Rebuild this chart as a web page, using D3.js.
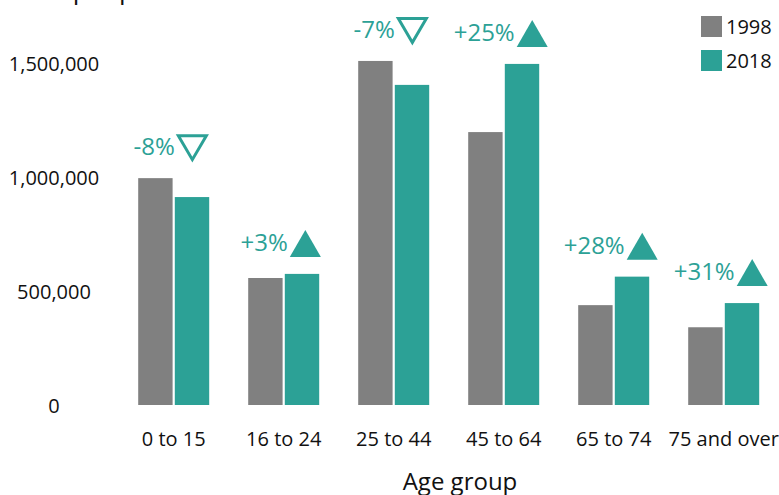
<!DOCTYPE html>
<html><head><meta charset="utf-8">
<script src="https://cdn.jsdelivr.net/npm/d3@7"></script>
<style>body{margin:0;background:#fff}svg{display:block}text{font-family:"Open Sans",sans-serif}</style>
</head><body><svg id="c" width="779" height="495"></svg>
<script>
const categories = ["0 to 15","16 to 24","25 to 44","45 to 64","65 to 74","75 and over"];
const seriesNames = ["1998","2018"];
const values1998 = [995000, 557000, 1509000, 1197000, 438000, 341000];
const values2018 = [912000, 575000, 1404000, 1496000, 563000, 447000];
const changeLabels = ["-8%","+3%","-7%","+25%","+28%","+31%"];
const yTicks = [0, 500000, 1000000, 1500000];
const colors = ["#808080", "#2ca196"];

const svg = d3.select("#c");
const y = d3.scaleLinear().domain([0, 1500000]).range([405, 63]);
const x0 = d3.scaleBand().domain(categories).range([118.7, 778.7]).paddingInner(0.3545).paddingOuter(0.3545/2);
const x1 = d3.scaleBand().domain(seriesNames).range([0, x0.bandwidth()]).paddingInner(0.06);

// cut-off title
svg.append("text").attr("x", 156).attr("y", -1).attr("text-anchor", "end")
  .attr("font-size", 26).attr("fill", "#111").text("Number of people");

// y tick labels
const yAxis = d3.axisLeft(y).tickValues(yTicks).tickFormat(d3.format(",")).tickSize(0).tickPadding(0);
const ya = svg.append("g").attr("transform", "translate(54,0)").call(yAxis);
ya.select(".domain").remove();
ya.selectAll("text").attr("text-anchor", "middle").attr("font-size", 20).attr("fill", "#111")
  .attr("font-family", "Open Sans, sans-serif").attr("dy", "0.36em");

// x tick labels
const xAxis = d3.axisBottom(x0).tickSize(0).tickPadding(0);
const xa = svg.append("g").attr("transform", "translate(0,432)").call(xAxis);
xa.select(".domain").remove();
xa.selectAll("text").attr("font-size", 20).attr("fill", "#111").attr("font-family", "Open Sans, sans-serif").attr("dy", "0.71em");

svg.append("text").attr("x", 460).attr("y", 490).attr("text-anchor", "middle")
  .attr("font-size", 24).attr("fill", "#111").text("Age group");

// bars
const data = categories.map((c, i) => ({c, vals: [values1998[i], values2018[i]], label: changeLabels[i]}));
const g = svg.selectAll("g.grp").data(data).join("g").attr("class", "grp")
  .attr("transform", d => `translate(${x0(d.c)},0)`);
g.selectAll("rect").data(d => d.vals.map((v, j) => ({v, s: seriesNames[j], j})))
  .join("rect")
  .attr("x", d => x1(d.s)).attr("width", x1.bandwidth())
  .attr("y", d => y(d.v)).attr("height", d => y(0) - y(d.v))
  .attr("fill", d => colors[d.j]);

// change annotations
const teal = colors[1];
const triW = 31, triH = 27;
data.forEach(d => {
  const gc = x0(d.c) + x0.bandwidth() / 2;
  const top = y(Math.max(...d.vals));
  const bottom = top - 17;
  const t = svg.append("text").attr("font-size", 24).attr("fill", teal).text(d.label);
  const tw = t.node().getComputedTextLength();
  const total = tw + 2 + triW;
  const left = gc - 3 - total / 2;
  t.attr("x", left).attr("y", bottom - 6);
  const tx = left + tw + 2;
  const up = d.label.startsWith("+");
  if (up) {
    svg.append("path").attr("d", `M${tx},${bottom} L${tx + triW},${bottom} L${tx + triW / 2},${bottom - triH} Z`)
      .attr("fill", teal);
  } else {
    svg.append("path").attr("d", `M${tx + 1.5},${bottom - triH + 1.5} L${tx + triW - 1.5},${bottom - triH + 1.5} L${tx + triW / 2},${bottom - 1.5} Z`)
      .attr("fill", "none").attr("stroke", teal).attr("stroke-width", 3);
  }
});

// legend
const lg = svg.append("g");
seriesNames.forEach((s, i) => {
  lg.append("rect").attr("x", 701).attr("y", 16 + i * 34).attr("width", 21).attr("height", 21).attr("fill", colors[i]);
  lg.append("text").attr("x", 726).attr("y", 33.5 + i * 34).attr("font-size", 20).attr("fill", "#111").text(s);
});
</script></body></html>
